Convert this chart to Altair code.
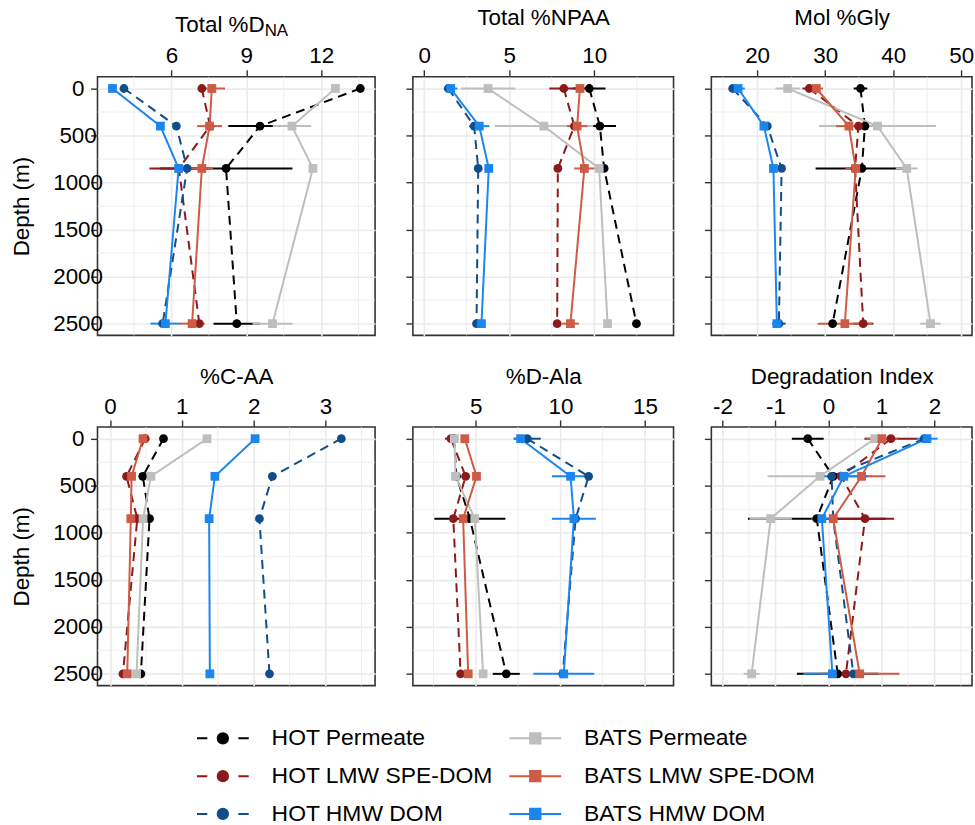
import altair as alt
import pandas as pd

# ---------------- data ----------------
SERIES = ["HOT Permeate", "HOT LMW SPE-DOM", "HOT HMW DOM",
          "BATS Permeate", "BATS LMW SPE-DOM", "BATS HMW DOM"]
COLORS = ["#000000", "#8B1A1A", "#104E8B", "#BEBEBE", "#CD5B45", "#1C86EE"]
DEPTH = [0, 400, 850, 2500]
Y_MAJOR = [0, 500, 1000, 1500, 2000, 2500]
Y_MINOR = [250, 750, 1250, 1750, 2250]

# Total %D_NA
DNA_MEAN = {
    "HOT Permeate": [13.57, 9.55, 8.19, 8.62],
    "HOT LMW SPE-DOM": [7.22, 7.55, 6.30, 7.12],
    "HOT HMW DOM": [4.10, 6.20, 6.63, 5.65],
    "BATS Permeate": [12.57, 10.83, 11.67, 10.05],
    "BATS LMW SPE-DOM": [7.62, 7.53, 7.22, 6.83],
    "BATS HMW DOM": [3.64, 5.56, 6.29, 5.76],
}
DNA_ERR = {
    "HOT Permeate": [0, 1.27, 2.66, 0.93],
    "HOT LMW SPE-DOM": [0, 0, 1.18, 0],
    "HOT HMW DOM": [0, 0, 0, 0],
    "BATS Permeate": [0, 0.77, 0, 0.80],
    "BATS LMW SPE-DOM": [0.53, 0.50, 0.45, 0.50],
    "BATS HMW DOM": [0, 0, 0, 0.60],
}
# Total %NPAA
NPAA_MEAN = {
    "HOT Permeate": [9.71, 10.33, 10.58, 12.48],
    "HOT LMW SPE-DOM": [8.21, 8.83, 7.86, 7.82],
    "HOT HMW DOM": [1.42, 2.94, 3.18, 3.08],
    "BATS Permeate": [3.76, 7.04, 10.29, 10.78],
    "BATS LMW SPE-DOM": [9.16, 8.99, 9.42, 8.60],
    "BATS HMW DOM": [1.56, 3.24, 3.80, 3.37],
}
NPAA_ERR = {
    "HOT Permeate": [0.95, 0.95, 0, 0],
    "HOT LMW SPE-DOM": [0.85, 0, 0, 0],
    "HOT HMW DOM": [0, 0.30, 0, 0],
    "BATS Permeate": [1.60, 2.90, 0, 0],
    "BATS LMW SPE-DOM": [0, 0.60, 0.60, 0.50],
    "BATS HMW DOM": [0.40, 0.60, 0, 0],
}
# Mol %Gly
GLY_MEAN = {
    "HOT Permeate": [35.2, 35.85, 35.4, 31.1],
    "HOT LMW SPE-DOM": [27.66, 34.9, 34.4, 35.6],
    "HOT HMW DOM": [16.4, 21.5, 23.6, 23.2],
    "BATS Permeate": [24.5, 37.7, 42.0, 45.5],
    "BATS LMW SPE-DOM": [28.7, 33.5, 34.5, 32.9],
    "BATS HMW DOM": [17.2, 21.0, 22.4, 22.9],
}
GLY_ERR = {
    "HOT Permeate": [1.0, 0, 6.8, 0],
    "HOT LMW SPE-DOM": [1.0, 0, 0, 1.5],
    "HOT HMW DOM": [0, 0, 0, 1.0],
    "BATS Permeate": [1.8, 8.6, 1.6, 1.5],
    "BATS LMW SPE-DOM": [1.0, 1.9, 1.5, 4.0],
    "BATS HMW DOM": [1.0, 0, 0, 0],
}
# %C-AA
CAA_MEAN = {
    "HOT Permeate": [0.745, 0.456, 0.55, 0.43],
    "HOT LMW SPE-DOM": [0.49, 0.23, 0.38, 0.18],
    "HOT HMW DOM": [3.22, 2.26, 2.08, 2.22],
    "BATS Permeate": [1.35, 0.57, 0.46, 0.37],
    "BATS LMW SPE-DOM": [0.46, 0.30, 0.29, 0.24],
    "BATS HMW DOM": [2.02, 1.46, 1.38, 1.39],
}
CAA_ERR = {s: [0, 0, 0, 0] for s in SERIES}
# %D-Ala
DALA_MEAN = {
    "HOT Permeate": [3.70, 3.86, 4.65, 6.80],
    "HOT LMW SPE-DOM": [3.53, 4.40, 3.67, 4.10],
    "HOT HMW DOM": [8.04, 11.67, 10.90, 10.14],
    "BATS Permeate": [3.73, 3.80, 4.94, 5.43],
    "BATS LMW SPE-DOM": [4.35, 5.04, 4.25, 4.55],
    "BATS HMW DOM": [7.65, 10.60, 10.80, 10.20],
}
DALA_ERR = {
    "HOT Permeate": [0, 0, 2.1, 0.8],
    "HOT LMW SPE-DOM": [0.35, 0, 0, 0],
    "HOT HMW DOM": [0.8, 0, 0, 0],
    "BATS Permeate": [0, 0, 0, 0],
    "BATS LMW SPE-DOM": [0, 0, 0, 0],
    "BATS HMW DOM": [0.4, 1.1, 1.3, 1.8],
}
# Degradation Index
DI_MEAN = {
    "HOT Permeate": [-0.39, 0.09, -0.22, 0.175],
    "HOT LMW SPE-DOM": [1.18, 0.24, 0.69, 0.33],
    "HOT HMW DOM": [1.81, 0.06, 0.09, 0.47],
    "BATS Permeate": [0.875, -0.16, -1.09, -1.45],
    "BATS LMW SPE-DOM": [1.01, 0.625, 0.09, 0.59],
    "BATS HMW DOM": [1.86, 0.29, -0.125, 0.075],
}
DI_ERR = {
    "HOT Permeate": [0.30, 0, 1.30, 0.77],
    "HOT LMW SPE-DOM": [0.50, 0, 0.55, 0],
    "HOT HMW DOM": [0, 0, 0, 0],
    "BATS Permeate": [0, 0.99, 0.40, 0.15],
    "BATS LMW SPE-DOM": [0.30, 0.45, 0, 0.75],
    "BATS HMW DOM": [0.20, 0.45, 0.20, 0.55],
}

# ---------------- style ----------------
FONT = "Liberation Sans"
GRID = "#EBEBEB"
AXC = "#333333"
FS = 22.5

color_scale = alt.Scale(domain=SERIES, range=COLORS)
shape_scale = alt.Scale(domain=SERIES, range=["circle"] * 3 + ["square"] * 3)
size_scale = alt.Scale(domain=SERIES, range=[78] * 3 + [165] * 3)


def panel(mean, err, xdom, xmaj, xmin, width, title, show_y, title_pad, custom_title=None):
    rows = []
    for i, s in enumerate(SERIES):
        for d, m, e in zip(DEPTH, mean[s], err[s]):
            rows.append(dict(series=s, k=i, depth=d, val=m, lo=m - e, hi=m + e, err=e))
    df = pd.DataFrame(rows).sort_values(["k", "depth"])
    xs = alt.Scale(domain=xdom, nice=False, zero=False)
    ys = alt.Scale(domain=[-125, 2625], reverse=True, nice=False, zero=False)

    xaxis_kw = dict(orient="top", values=xmaj, grid=True, gridColor=GRID, gridWidth=1.6,
                    domain=False, ticks=True, tickSize=7, tickWidth=1.4, tickColor=AXC,
                    labelFontSize=FS, labelColor="black", labelPadding=2, labelFlush=False,
                    labelOverlap=False, labelFont=FONT,
                    labelExpr="(datum.value < 0 ? '-' : '') + abs(datum.value)",
                    title=title, titleFontSize=FS, titleFontWeight="normal", titleColor="black",
                    titlePadding=title_pad, titleFont=FONT)
    yaxis_kw = dict(orient="left", values=Y_MAJOR, grid=True, gridColor=GRID, gridWidth=1.6,
                    domain=False, ticks=True, tickSize=7, tickWidth=1.4, tickColor=AXC,
                    labelOverlap=False, labelFlush=False)
    if show_y:
        yaxis_kw.update(labels=True, labelFontSize=FS, labelColor="black", labelAlign="center",
                        labelPadding=13, labelFont=FONT, labelExpr="'' + datum.value",
                        title="Depth (m)", titleFontSize=FS,
                        titleFontWeight="normal", titleColor="black", titlePadding=19, titleFont=FONT)
    else:
        yaxis_kw.update(labels=False, title=None)
    XA = alt.Axis(**xaxis_kw)
    YA = alt.Axis(**yaxis_kw)

    layers = []
    # minor grid lines
    layers.append(alt.Chart(pd.DataFrame({"v": xmin})).mark_rule(color=GRID, strokeWidth=0.8)
                  .encode(x=alt.X("v:Q", scale=xs, axis=XA)))
    layers.append(alt.Chart(pd.DataFrame({"d": Y_MINOR})).mark_rule(color=GRID, strokeWidth=0.8)
                  .encode(y=alt.Y("d:Q", scale=ys, axis=YA)))
    # lines
    for i, s in enumerate(SERIES):
        dash = [9, 6] if i < 3 else [1, 0]
        layers.append(alt.Chart(df[df.series == s]).mark_line(strokeWidth=2, strokeDash=dash,
                                                               color=COLORS[i])
                      .encode(x=alt.X("val:Q", scale=xs, axis=XA),
                              y=alt.Y("depth:Q", scale=ys, axis=YA),
                              order=alt.Order("depth:Q")))
    # error bars
    dfe = df[df.err > 0]
    layers.append(alt.Chart(dfe).mark_rule(strokeWidth=2)
                  .encode(x=alt.X("lo:Q", scale=xs, axis=XA), x2="hi:Q",
                          y=alt.Y("depth:Q", scale=ys, axis=YA),
                          color=alt.Color("series:N", scale=color_scale, legend=None)))
    # points
    layers.append(alt.Chart(df).mark_point(filled=True, opacity=1)
                  .encode(x=alt.X("val:Q", scale=xs, axis=XA),
                          y=alt.Y("depth:Q", scale=ys, axis=YA),
                          color=alt.Color("series:N", scale=color_scale, legend=None),
                          shape=alt.Shape("series:N", scale=shape_scale, legend=None),
                          size=alt.Size("series:N", scale=size_scale, legend=None)))
    if custom_title is not None:
        main, sub, split, base = custom_title
        layers.append(alt.Chart(pd.DataFrame({"t": [main]}))
                      .mark_text(align="right", baseline="alphabetic", fontSize=FS, font=FONT, color="black")
                      .encode(text="t:N", x=alt.value(split), y=alt.value(base)))
        layers.append(alt.Chart(pd.DataFrame({"t": [sub]}))
                      .mark_text(align="left", baseline="alphabetic", fontSize=17, font=FONT, color="black")
                      .encode(text="t:N", x=alt.value(split), y=alt.value(base + 4)))
    return alt.layer(*layers).properties(width=width, height=260)


W1, W = 279, 262
p1 = panel(DNA_MEAN, DNA_ERR, [3.04, 14.16], [6, 9, 12], [4.5, 7.5, 10.5, 13.5], W1,
           None, True, 16, custom_title=("Total %D", "NA", 168, -45))
p2 = panel(NPAA_MEAN, NPAA_ERR, [-0.66, 14.66], [0, 5, 10], [2.5, 7.5, 12.5], W,
           "Total %NPAA", False, 16)
p3 = panel(GLY_MEAN, GLY_ERR, [13.27, 51.6], [20, 30, 40, 50], [15, 25, 35, 45], W,
           "Mol %Gly", False, 16)
p4 = panel(CAA_MEAN, CAA_ERR, [-0.174, 3.69], [0, 1, 2, 3], [0.5, 1.5, 2.5, 3.5], W1,
           "%C-AA", True, 7)
p5 = panel(DALA_MEAN, DALA_ERR, [1.28, 16.69], [5, 10, 15], [2.5, 7.5, 12.5], W,
           "%D-Ala", False, 7)
p6 = panel(DI_MEAN, DI_ERR, [-2.21, 2.71], [-2, -1, 0, 1, 2], [-1.5, -0.5, 0.5, 1.5, 2.5], W,
           "Degradation Index", False, 7)

row1 = alt.hconcat(p1, p2, p3, spacing=27)
row2 = alt.hconcat(p4, p5, p6, spacing=27)

# ---------------- legend (manual) ----------------
LEG_COL = [0, 0, 0, 1, 1, 1]
LEG_ROW = [0, 1, 2, 0, 1, 2]
leg_df = pd.DataFrame({"series": SERIES, "col": LEG_COL, "row": LEG_ROW})
GLYPH_HOT = "M-1,0H-0.6M0.6,0H1M0.2,0A0.2,0.2,0,1,1,-0.2,0A0.2,0.2,0,1,1,0.2,0Z"
GLYPH_BATS = "M-1,0H1M-0.2,-0.2H0.2V0.2H-0.2Z"
lx = alt.Scale(domain=[0, 1], range=[126, 440])
ly = alt.Scale(domain=[0, 2], range=[19, 95])
leg_color = alt.Color("series:N", scale=color_scale, legend=None)
leg_stroke = alt.Stroke("series:N", scale=color_scale, legend=None)
g_hot = (alt.Chart(leg_df[leg_df.col == 0])
         .mark_point(shape=GLYPH_HOT, size=2704, filled=True, strokeWidth=2, opacity=1)
         .encode(x=alt.X("col:Q", scale=lx, axis=None), y=alt.Y("row:Q", scale=ly, axis=None),
                 color=leg_color, stroke=leg_stroke))
g_bats = (alt.Chart(leg_df[leg_df.col == 1])
          .mark_point(shape=GLYPH_BATS, size=2704, filled=True, strokeWidth=2, opacity=1)
          .encode(x=alt.X("col:Q", scale=lx, axis=None), y=alt.Y("row:Q", scale=ly, axis=None),
                  color=leg_color, stroke=leg_stroke))
g_txt = (alt.Chart(leg_df).mark_text(align="left", baseline="middle", dx=49, fontSize=23,
                                     font=FONT, color="black")
         .encode(x=alt.X("col:Q", scale=lx, axis=None), y=alt.Y("row:Q", scale=ly, axis=None),
                 text="series:N"))
legend = alt.layer(g_hot, g_bats, g_txt).properties(
    width=700, height=100, view=alt.ViewBackground(stroke="transparent"))

chart = (alt.vconcat(alt.vconcat(row1, row2, spacing=27), legend, spacing=31)
         .properties(padding={"left": 10, "top": 3, "right": 0, "bottom": 0}, background="white")
         .configure(font=FONT)
         .configure_view(stroke=AXC, strokeWidth=1.6))

chart.save("out.html", embed_options={"renderer": "svg", "actions": False})
